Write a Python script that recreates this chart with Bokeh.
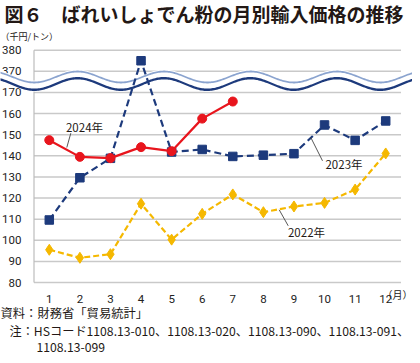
import numpy as np
from bokeh.plotting import figure
from bokeh.models import Label, ColumnDataSource
from bokeh.core.properties import value
from bokeh.embed import file_html
from bokeh.resources import INLINE

# ---------------- data ----------------
months = list(range(1, 13))
price_2022 = [95.5, 91.7, 93.4, 117.3, 100.3, 112.5, 121.7, 113.3, 116.0, 117.7, 124.0, 141.1]
price_2023 = [109.6, 129.6, 138.8, 375.0, 141.8, 143.0, 139.7, 140.3, 141.0, 154.6, 147.3, 156.5]
price_2024 = [147.4, 139.5, 138.9, 144.1, 142.2, 157.6, 165.7]
y_tick_values = [80, 90, 100, 110, 120, 130, 140, 150, 160, 170, 370, 380]
x_tick_labels = [str(m) for m in months]
series_names = ["2022年", "2023年", "2024年"]
title_text = "図６　ばれいしょでん粉の月別輸入価格の推移"
unit_text = "（千円/トン）"
month_unit_text = "（月）"
source_text = "資料：財務省「貿易統計」"
note_line1 = "注：HSコード1108.13-010、1108.13-020、1108.13-090、1108.13-091、"
note_line2 = "1108.13-099"

# broken axis: values from 370 upward are shifted down onto the axis
BREAK_SHIFT = 190
def to_axis(v):
    return v - BREAK_SHIFT if v >= 300 else v

# ---------------- layout ----------------
W, H = 412, 355
DX, DY = 3, 3                 # reference pixel -> canvas pixel offset
LEFT, TOP = 36.5 - DX, 52.7 - DY   # plot area offset inside the canvas (px)
AREA_W, AREA_H = 367.0, 232.3      # plot area size (px)
AX0, AX1 = 0.5, 12.5          # plot area x extent (data)
AY0, AY1 = 80, 190            # plot area y extent (axis units)
PX_X = AREA_W / (AX1 - AX0)
PX_Y = AREA_H / (AY1 - AY0)
x_start = AX0 - LEFT / PX_X
x_end = x_start + W / PX_X
y_end = AY1 + TOP / PX_Y
y_start = y_end - H / PX_Y

def X(ref_px):
    return x_start + (np.asarray(ref_px, dtype=float) - DX) / PX_X

def Y(ref_py):
    return y_end - (np.asarray(ref_py, dtype=float) - DY) / PX_Y

GOLD = "#f5b800"
NAVY = "#1d3a7c"
RED = "#e8151d"
GRID = "#c9c9c9"
TXT = "#231815"
JP = "Noto Sans CJK JP"
LAT = "Roboto"

p = figure(width=W, height=H, x_range=(x_start, x_end), y_range=(y_start, y_end),
           output_backend="svg", toolbar_location=None,
           x_axis_type=None, y_axis_type=None, min_border=0)
p.outline_line_color = None
p.background_fill_color = "white"
p.border_fill_color = "white"
p.title.visible = False

# ---------------- grid + axis lines ----------------
ticks_axis = [to_axis(v) for v in y_tick_values]
grid_src = ColumnDataSource(dict(y=ticks_axis, x0=[AX0] * len(ticks_axis),
                                 x1=[AX1] * len(ticks_axis)))
p.segment(x0="x0", y0="y", x1="x1", y1="y", source=grid_src,
          line_color=GRID, line_width=1.5)
p.segment(x0=[AX0], y0=[AY0], x1=[AX0], y1=[AY1], line_color="#bdbdbd", line_width=1.2)

# tick labels
p.text(x=[AX0 - 12.5 / PX_X] * len(ticks_axis), y=ticks_axis,
       text=[str(v) for v in y_tick_values], text_font=value(LAT),
       text_font_size="11.5px", text_color="#222222",
       text_align="right", text_baseline="middle")
p.text(x=months, y=[AY0 - 16.5 / PX_Y] * len(months), text=x_tick_labels,
       text_font=value(LAT), text_font_size="11.5px", text_color="#222222",
       text_align="center", text_baseline="middle")

# ---------------- axis break wave ----------------
xs_ref = np.linspace(-30, 450, 400)
phase = np.cos(2 * np.pi * (xs_ref - 80) / 86.5)
upper = 79.5 - 5.5 * phase
lower = 86.5 - 5.8 * phase

def band(top_ref, bot_ref):
    xs = list(X(xs_ref)) + list(X(xs_ref[::-1]))
    ys = list(Y(top_ref)) + list(Y(bot_ref[::-1]))
    return xs, ys

for top_ref, bot_ref, col in [(upper - 1.9, lower + 1.8, "white"),
                              (upper - 0.9, upper + 0.9, "#8ba4cf"),
                              (lower - 1.2, lower + 1.2, NAVY)]:
    bx, by = band(top_ref, bot_ref)
    p.patch(bx, by, fill_color=col, fill_alpha=1.0, line_color=None)

# ---------------- series ----------------
y22 = [to_axis(v) for v in price_2022]
y23 = [to_axis(v) for v in price_2023]
y24 = [to_axis(v) for v in price_2024]
m24 = months[:len(price_2024)]

p.line(months, y22, line_color=GOLD, line_width=2.2, line_dash="6 3")
p.scatter(months, y22, marker="diamond", size=11, fill_color=GOLD, line_color=GOLD)
p.line(months, y23, line_color=NAVY, line_width=2.2, line_dash="7 4")
p.scatter(months, y23, marker="square", size=8.5, fill_color=NAVY, line_color=NAVY)
p.line(m24, y24, line_color=RED, line_width=2.2)
p.scatter(m24, y24, marker="circle", size=9, fill_color=RED, line_color=RED)

# ---------------- series labels with leaders ----------------
label_pos = {"2024年": (87, 129.5), "2023年": (346.5, 166), "2022年": (309, 234.7)}
leaders = {"2024年": (73.3, 135.7, 69.3, 150), "2023年": (313.3, 140, 325, 163.3),
           "2022年": (281.7, 212.3, 290.7, 228.3)}
for name in series_names:
    x0r, y0r, x1r, y1r = leaders[name]
    p.segment(x0=[float(X(x0r))], y0=[float(Y(y0r))], x1=[float(X(x1r))], y1=[float(Y(y1r))],
              line_color="#444444", line_width=0.9)
    lx, ly = label_pos[name]
    p.add_layout(Label(x=float(X(lx)), y=float(Y(ly)), text=name, text_font=JP,
                       text_font_size="11.5px", text_color=TXT,
                       text_align="center", text_baseline="middle"))

# ---------------- texts ----------------
def txt(text, xr, yr, size, font=JP, bold=False, baseline="middle", align="left"):
    p.add_layout(Label(x=float(X(xr)), y=float(Y(yr)), text=text, text_font=font,
                       text_font_size=size, text_color=TXT,
                       text_font_style="bold" if bold else "normal",
                       text_align=align, text_baseline=baseline))

txt(title_text, 7, 15.5, "19px", bold=True)
txt(unit_text, 3, 39, "9px")
txt(month_unit_text, W + DX, 297, "10px", align="right")
txt(source_text, 3, 315.5, "12.3px")
txt(note_line1, 12, 333.5, "12.2px")
txt(note_line2, 39, 349.8, "12.2px")

open("out.html", "w").write(file_html(p, INLINE))
